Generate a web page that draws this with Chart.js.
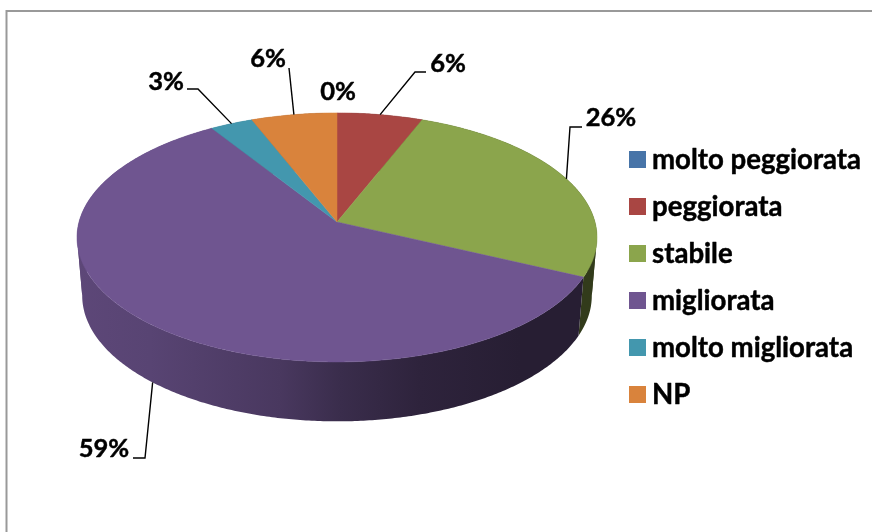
<!DOCTYPE html>
<html><head><meta charset="utf-8">
<style>html,body{margin:0;padding:0;background:#fff}canvas{display:block}</style>
<script src="https://cdn.jsdelivr.net/npm/chart.js@4"></script>
</head><body>
<canvas id="c" width="872" height="532"></canvas>
<script>
const categories = ['molto peggiorata','peggiorata','stabile','migliorata','molto migliorata','NP'];
const values = [0,6,26,59,3,6];
const colors = ['#4774a8','#a94643','#8ba54c','#6f5590','#4397ae','#d9833c'];

const FONT = 'bold 25.5px Lato';
const LEGEND_FONT = 'bold 27.6px Lato';
// 3D view: perspective projection of the pie's unit disc
const view = {ax:337, ay:222, b:258, a:122.6, k:0.124, depth:58, sx:0.98, sy:1.01};
function project(angle, lower){
  const u=Math.cos(angle), v=Math.sin(angle), w=1-view.k*v;
  let X=view.b*u/w, Y=view.a*v/w;
  if(lower){X*=view.sx; Y=Y*view.sy+view.depth;}
  return [view.ax+X, view.ay+Y];
}
const shade=[[77,.84],[150,.80],[280,.66],[340,.53],[420,.42],[520,.36],[597,.36]];
function mult(hex,f){
  const n=parseInt(hex.slice(1),16);
  return `rgb(${((n>>16)&255)*f|0},${((n>>8)&255)*f|0},${(n&255)*f|0})`;
}
function samples(a0,a1){
  const n=Math.max(1,Math.ceil((a1-a0)/0.01)),p=[];
  for(let i=0;i<=n;i++)p.push(a0+(a1-a0)*i/n);
  return p;
}
// split an angular span where the side band folds (widest points of the rim)
function splitAtFolds(a0,a1){
  const t=Math.asin(view.k), cuts=[a0];
  [t,Math.PI-t].forEach(f=>{ if(f>a0&&f<a1)cuts.push(f); });
  cuts.push(a1);
  return cuts.slice(0,-1).map((a,i)=>[a,cuts[i+1]]);
}
// leader lines: index of slice -> elbow points (from slice mid-angle on the rim)
const leaders={
  1:{pts:[[415,72],[426,72]]},
  2:{pts:[[570,127],[582,127]]},
  3:{pts:[[145,458],[133,458]],lower:true},
  4:{pts:[[198,89],[187,89]]},
  5:{pts:[[289,68]]}
};
const labelPos=[[338,92],[448,64],[611,118],[104,449],[166,82],[268,59]];
const legendPos={swatchX:629,textX:652,firstY:159.5,step:47,size:17};

function boldText(c,t,x,y){
  c.lineWidth=.45;c.strokeStyle='#000';c.lineJoin='round';
  c.fillText(t,x,y);c.strokeText(t,x,y);
}
const pie3d={
  id:'pie3d',
  beforeDraw(chart){
    const c=chart.ctx;
    c.save();
    c.fillStyle='#fff';c.fillRect(0,0,chart.width,chart.height);
    c.strokeStyle='#999';c.lineWidth=2;
    c.strokeRect(6.5,11,chart.width+20,chart.height+20);
    c.restore();
  },
  beforeDatasetsDraw(chart){
    const c=chart.ctx, arcs=chart.getDatasetMeta(0).data;
    c.save();
    // sides
    arcs.forEach((el,i)=>{
      if(el.endAngle-el.startAngle<=0)return;
      const g=c.createLinearGradient(77,0,597,0);
      shade.forEach(([x,f])=>g.addColorStop((x-77)/520,mult(colors[i],f)));
      c.fillStyle=g;
      splitAtFolds(el.startAngle,el.endAngle).forEach(([a0,a1])=>{
        const ang=samples(a0,a1);
        c.beginPath();
        ang.forEach((a,j)=>{const p=project(a,false); j?c.lineTo(p[0],p[1]):c.moveTo(p[0],p[1]);});
        ang.slice().reverse().forEach(a=>{const p=project(a,true); c.lineTo(p[0],p[1]);});
        c.closePath();c.fill();
      });
    });
    // top faces
    arcs.forEach((el,i)=>{
      if(el.endAngle-el.startAngle<=0)return;
      c.fillStyle=colors[i];c.strokeStyle=colors[i];c.lineWidth=.5;
      c.beginPath();c.moveTo(view.ax,view.ay);
      samples(el.startAngle,el.endAngle).forEach(a=>{const p=project(a,false);c.lineTo(p[0],p[1]);});
      c.closePath();c.fill();c.stroke();
    });
    // leader lines
    c.strokeStyle='#000';c.lineWidth=1.4;c.lineJoin='miter';
    Object.keys(leaders).forEach(k=>{
      const el=arcs[k],L=leaders[k],s=project((el.startAngle+el.endAngle)/2,!!L.lower);
      c.beginPath();c.moveTo(s[0],s[1]);
      L.pts.forEach(p=>c.lineTo(p[0],p[1]));c.stroke();
    });
    // data labels
    c.fillStyle='#000';c.font=FONT;c.textAlign='center';c.textBaseline='middle';
    values.forEach((v,i)=>boldText(c,v+'%',labelPos[i][0],labelPos[i][1]));
    // legend
    c.font=LEGEND_FONT;c.textAlign='left';
    chart.data.labels.forEach((t,i)=>{
      const y=legendPos.firstY+i*legendPos.step;
      c.fillStyle=colors[i];
      c.fillRect(legendPos.swatchX,y-legendPos.size/2,legendPos.size,legendPos.size);
      c.fillStyle='#000';
      boldText(c,t,legendPos.textX,y+1);
    });
    c.restore();
    return false;
  }
};
new Chart(document.getElementById('c'),{
  type:'pie',
  data:{labels:categories,datasets:[{data:values,backgroundColor:colors,borderWidth:0}]},
  options:{responsive:false,animation:false,events:[],
    plugins:{legend:{display:false},tooltip:{enabled:false}}},
  plugins:[pie3d]
});
</script>
</body></html>
